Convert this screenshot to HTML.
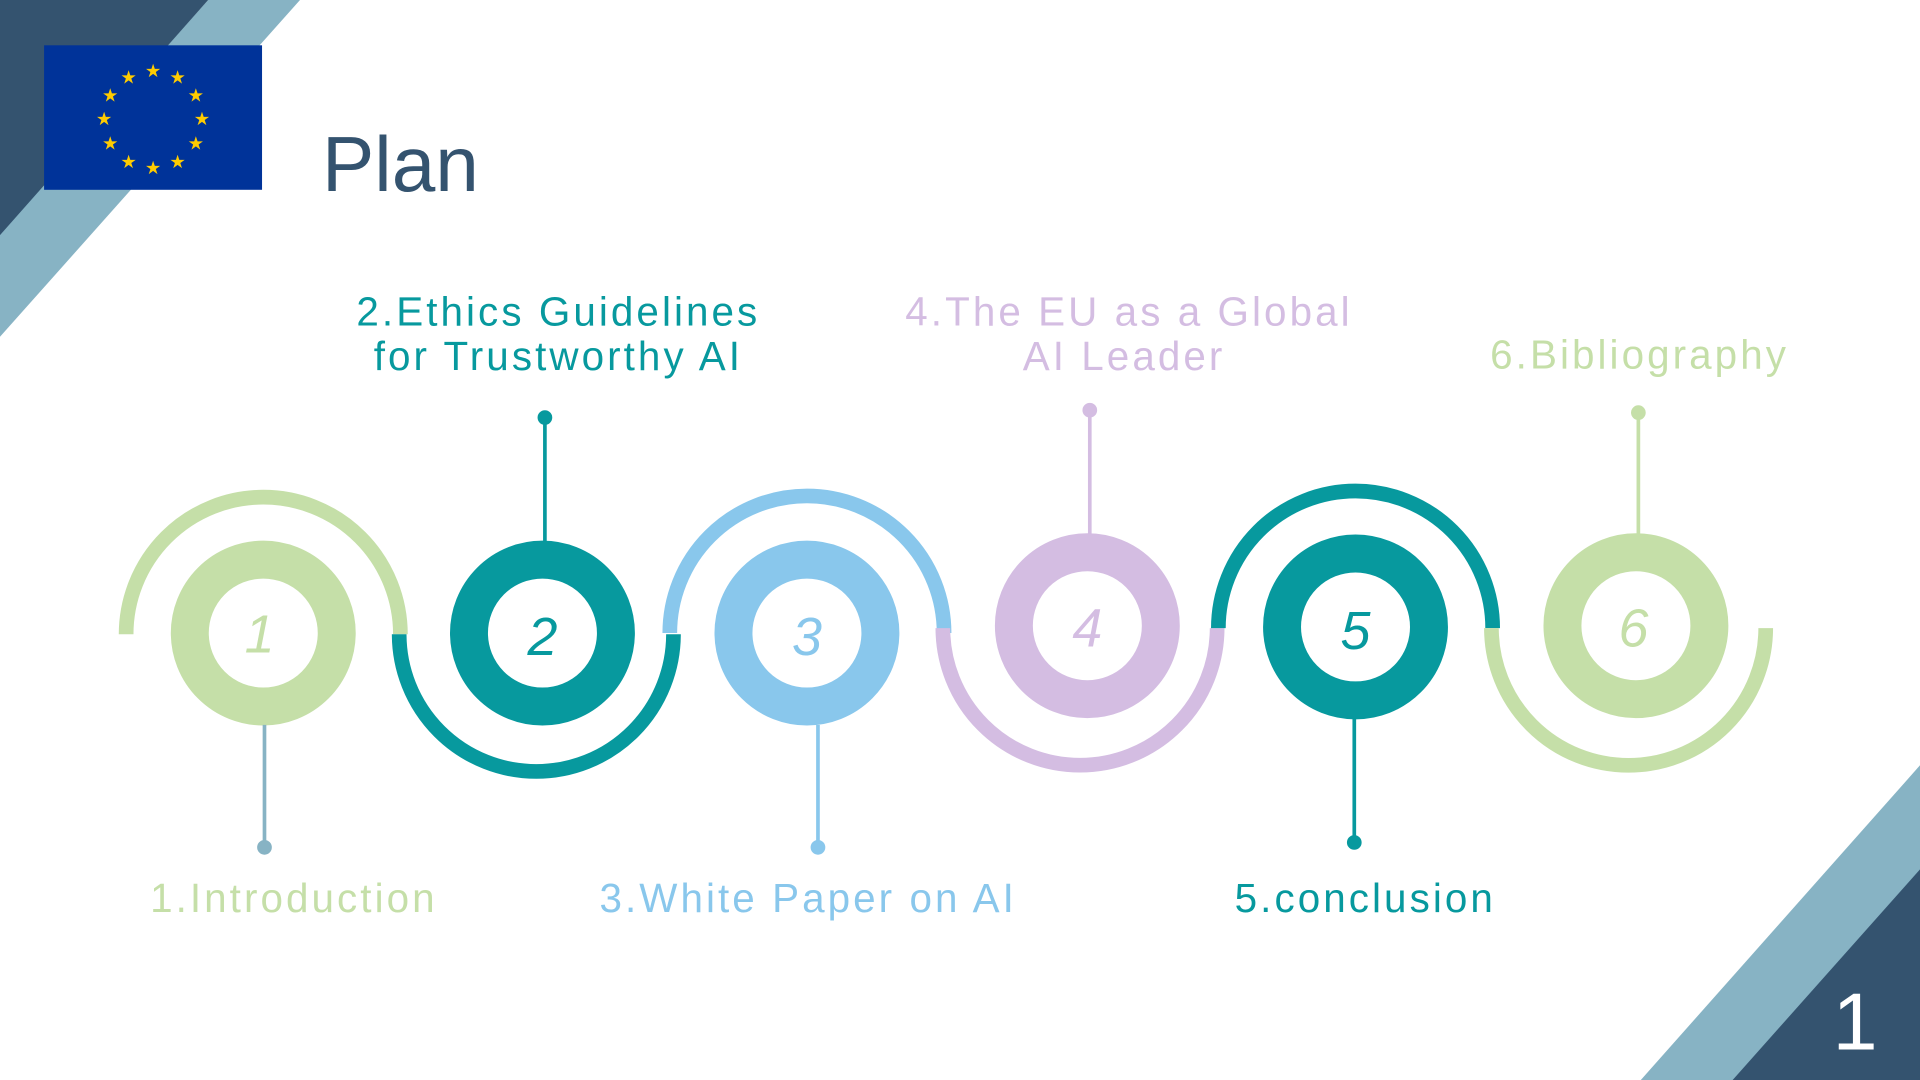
<!DOCTYPE html>
<html><head><meta charset="utf-8"><style>
html,body{margin:0;padding:0;background:#fff;overflow:hidden}
svg{display:block}
text{font-family:"Liberation Sans","DejaVu Sans",sans-serif}
.lbl{font-size:33px;letter-spacing:2.5px;text-anchor:middle}
.num{font-size:44px;font-style:italic;text-anchor:middle;font-weight:300}
</style></head><body>
<svg width="1920" height="1080" viewBox="0 0 1568 882" xmlns="http://www.w3.org/2000/svg">
<polygon points="170,0 245,0 0,275 0,190" fill="#87b3c4"/>
<polygon points="0,0 170,0 0,192" fill="#34536f"/>
<rect x="36" y="37" width="178" height="118" fill="#003399"/>
<g fill="#ffcc00" font-size="15" text-anchor="middle">
<text x="125" y="63">★</text><text x="145" y="68">★</text><text x="160" y="83">★</text>
<text x="165" y="102">★</text><text x="160" y="122">★</text><text x="145" y="137">★</text>
<text x="125" y="142">★</text><text x="105" y="137">★</text><text x="90" y="122">★</text>
<text x="85" y="102">★</text><text x="90" y="83">★</text><text x="105" y="68">★</text>
</g>
<text x="263" y="156" font-size="64" fill="#34536f" font-weight="300">Plan</text>
<polygon points="1340,882 1568,625 1568,882" fill="#87b3c4"/>
<polygon points="1415,882 1568,710 1568,882" fill="#34536f"/>
<text x="1515" y="857" font-size="66" fill="#fff" text-anchor="middle">1</text>

<g fill="none" stroke-width="12">
<path d="M103,518 A112,112 0 0 1 327,518" stroke="#c5dfa8"/>
<path d="M326,518 A112,112 0 0 0 550,518" stroke="#07999e"/>
<path d="M547,517 A112,112 0 0 1 771,517" stroke="#89c7ec"/>
<path d="M770,513 A112,112 0 0 0 994,513" stroke="#d4bde2"/>
<path d="M995,513 A112,112 0 0 1 1219,513" stroke="#07999e"/>
<path d="M1218,513 A112,112 0 0 0 1442,513" stroke="#c5dfa8"/>
</g>
<g fill="none" stroke-width="31">
<circle cx="215" cy="517" r="60" stroke="#c5dfa8"/>
<circle cx="443" cy="517" r="60" stroke="#07999e"/>
<circle cx="659" cy="517" r="60" stroke="#89c7ec"/>
<circle cx="888" cy="511" r="60" stroke="#d4bde2"/>
<circle cx="1107" cy="512" r="60" stroke="#07999e"/>
<circle cx="1336" cy="511" r="60" stroke="#c5dfa8"/>
</g>
<g stroke-width="3">
<line x1="216" y1="592" x2="216" y2="692" stroke="#87b3c4"/><circle cx="216" cy="692" r="6" fill="#87b3c4" stroke="none"/>
<line x1="445" y1="341" x2="445" y2="442" stroke="#07999e"/><circle cx="445" cy="341" r="6" fill="#07999e" stroke="none"/>
<line x1="668" y1="592" x2="668" y2="692" stroke="#89c7ec"/><circle cx="668" cy="692" r="6" fill="#89c7ec" stroke="none"/>
<line x1="890" y1="335" x2="890" y2="436" stroke="#d4bde2"/><circle cx="890" cy="335" r="6" fill="#d4bde2" stroke="none"/>
<line x1="1106" y1="587" x2="1106" y2="688" stroke="#07999e"/><circle cx="1106" cy="688" r="6" fill="#07999e" stroke="none"/>
<line x1="1338" y1="337" x2="1338" y2="436" stroke="#c5dfa8"/><circle cx="1338" cy="337" r="6" fill="#c5dfa8" stroke="none"/>
</g>
<text class="num" x="212" y="533" fill="#c5dfa8">1</text>
<text class="num" x="443" y="535" fill="#07999e">2</text>
<text class="num" x="659" y="535" fill="#89c7ec">3</text>
<text class="num" x="888" y="528" fill="#d4bde2">4</text>
<text class="num" x="1107" y="530" fill="#07999e">5</text>
<text class="num" x="1334" y="528" fill="#c5dfa8">6</text>

<text class="lbl" x="456" y="266" fill="#07999e">2.Ethics Guidelines</text>
<text class="lbl" x="456" y="302" fill="#07999e">for Trustworthy AI</text>
<text class="lbl" x="922" y="266" fill="#d4bde2">4.The EU as a Global</text>
<text class="lbl" x="918" y="302" fill="#d4bde2">AI Leader</text>
<text class="lbl" x="1339" y="301" fill="#c5dfa8">6.Bibliography</text>
<text class="lbl" x="240" y="745" fill="#c5dfa8">1.Introduction</text>
<text class="lbl" x="660" y="745" fill="#89c7ec">3.White Paper on AI</text>
<text class="lbl" x="1115" y="745" fill="#07999e">5.conclusion</text>
</svg>
</body></html>
